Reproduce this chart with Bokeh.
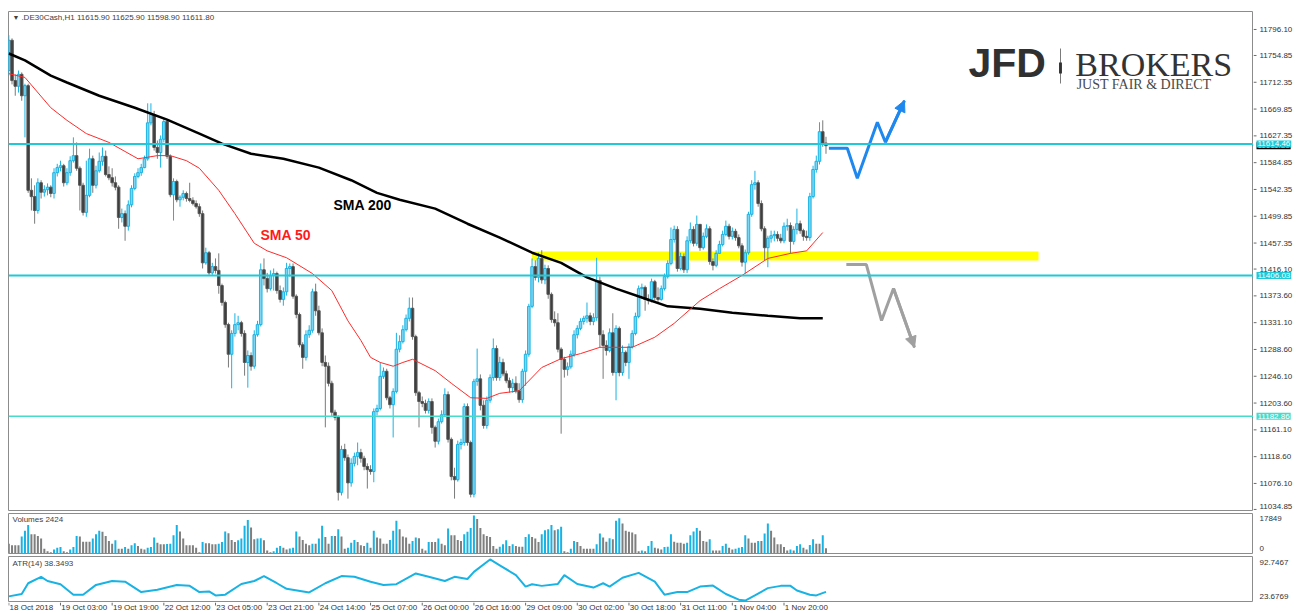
from bokeh.plotting import figure
from bokeh.layouts import column, row
from bokeh.models import (Range1d, Span, BoxAnnotation, Label, Arrow, NormalHead,
                          ColumnDataSource)
from bokeh.core.properties import value
from bokeh.embed import file_html
from bokeh.resources import INLINE

# ------------------------------------------------------------------ data
symbol = ".DE30Cash,H1"
last_ohlc = "11615.90 11625.90 11598.90 11611.80"
first_open = 11731.0

close = [
    11779, 11715, 11706, 11725, 11691, 11707, 11541, 11531, 11509, 11553,
    11538, 11542, 11546, 11536, 11569, 11577, 11580, 11553, 11569, 11588,
    11596, 11576, 11549, 11506, 11533, 11591, 11549, 11572, 11587, 11595,
    11566, 11561, 11553, 11546, 11498, 11504, 11484, 11518, 11544, 11563,
    11569, 11577, 11591, 11648, 11661, 11609, 11601, 11622, 11650, 11595,
    11534, 11555, 11526, 11530, 11536, 11528, 11525, 11520, 11515, 11504,
    11426, 11442, 11410, 11420, 11414, 11390, 11363, 11328, 11281, 11314,
    11328, 11331, 11314, 11268, 11279, 11262, 11312, 11328, 11415, 11401,
    11385, 11406, 11409, 11382, 11368, 11380, 11417, 11420, 11373, 11344,
    11296, 11276, 11312, 11319, 11380, 11350, 11315, 11268, 11262, 11235,
    11189, 11181, 11062, 11130, 11117, 11077, 11108, 11119, 11125, 11116,
    11103, 11098, 11095, 11190, 11195, 11246, 11254, 11212, 11201, 11222,
    11289, 11301, 11320, 11338, 11354, 11309, 11220, 11206, 11203, 11192,
    11206, 11165, 11143, 11174, 11185, 11217, 11146, 11087, 11082, 11138,
    11141, 11198, 11141, 11059, 11238, 11242, 11200, 11168, 11208, 11244,
    11290, 11244, 11268, 11250, 11239, 11228, 11235, 11223, 11209, 11254,
    11281, 11357, 11420, 11403, 11433, 11399, 11417, 11376, 11336, 11331,
    11289, 11273, 11257, 11261, 11281, 11312, 11322, 11333, 11338, 11342,
    11333, 11339, 11398, 11312, 11295, 11287, 11315, 11252, 11322, 11252,
    11284, 11268, 11293, 11314, 11341, 11385, 11387, 11368, 11366, 11396,
    11371, 11368, 11385, 11404, 11425, 11463, 11479, 11417, 11436, 11415,
    11461, 11479, 11457, 11487, 11450, 11468, 11480, 11428, 11422, 11441,
    11455, 11471, 11484, 11468, 11476, 11466, 11453, 11427, 11442, 11503,
    11550, 11553, 11520, 11480, 11450, 11465, 11469, 11471, 11465, 11461,
    11484, 11485, 11460, 11479, 11488, 11477, 11468, 11466, 11531, 11574,
    11587, 11634, 11615.9, 11611.8]

high = [
    11787, 11782, 11725, 11731, 11728, 11710, 11710, 11560, 11549, 11560,
    11557, 11549, 11552, 11549, 11576, 11583, 11588, 11583, 11576, 11595,
    11625, 11617, 11579, 11553, 11588, 11607, 11596, 11580, 11601, 11609,
    11604, 11579, 11576, 11563, 11549, 11512, 11509, 11525, 11549, 11568,
    11576, 11583, 11596, 11679, 11679, 11667, 11620, 11628, 11656, 11653,
    11598, 11560, 11558, 11533, 11541, 11539, 11553, 11530, 11525, 11520,
    11509, 11450, 11445, 11426, 11433, 11441, 11393, 11366, 11331, 11319,
    11346, 11342, 11334, 11319, 11287, 11284, 11319, 11334, 11425, 11433,
    11410, 11414, 11417, 11412, 11390, 11387, 11426, 11425, 11425, 11376,
    11347, 11300, 11319, 11327, 11385, 11393, 11358, 11322, 11279, 11268,
    11239, 11193, 11184, 11136, 11139, 11122, 11116, 11125, 11141, 11131,
    11120, 11108, 11105, 11195, 11201, 11268, 11260, 11258, 11215, 11227,
    11315, 11311, 11327, 11344, 11371, 11371, 11312, 11223, 11214, 11209,
    11211, 11211, 11168, 11179, 11192, 11227, 11222, 11149, 11101, 11144,
    11147, 11203, 11203, 11144, 11242, 11290, 11249, 11208, 11214, 11249,
    11306, 11295, 11277, 11274, 11255, 11244, 11242, 11246, 11235, 11258,
    11287, 11361, 11433, 11430, 11442, 11446, 11423, 11422, 11379, 11349,
    11346, 11292, 11277, 11268, 11287, 11319, 11327, 11338, 11342, 11363,
    11347, 11346, 11434, 11404, 11319, 11303, 11322, 11346, 11327, 11325,
    11295, 11287, 11298, 11319, 11347, 11390, 11393, 11390, 11376, 11401,
    11399, 11387, 11390, 11409, 11430, 11482, 11485, 11484, 11442, 11441,
    11468, 11490, 11484, 11501, 11465, 11474, 11487, 11484, 11433, 11446,
    11461, 11477, 11493, 11488, 11482, 11480, 11471, 11457, 11447, 11507,
    11557, 11572, 11557, 11525, 11484, 11469, 11477, 11477, 11476, 11472,
    11490, 11496, 11490, 11484, 11512, 11493, 11480, 11477, 11537, 11580,
    11596, 11649, 11652, 11625.9]

low = [
    11723, 11709, 11691, 11696, 11683, 11625, 11537, 11509, 11488, 11504,
    11528, 11531, 11533, 11530, 11528, 11563, 11571, 11547, 11549, 11564,
    11585, 11572, 11509, 11501, 11499, 11530, 11537, 11544, 11569, 11580,
    11563, 11557, 11547, 11541, 11480, 11490, 11461, 11477, 11514, 11541,
    11560, 11564, 11576, 11588, 11644, 11604, 11591, 11577, 11617, 11591,
    11530, 11493, 11522, 11515, 11525, 11523, 11522, 11517, 11512, 11499,
    11417, 11423, 11407, 11407, 11409, 11377, 11358, 11323, 11260, 11227,
    11309, 11319, 11309, 11247, 11228, 11255, 11258, 11309, 11325, 11390,
    11379, 11382, 11382, 11377, 11363, 11358, 11374, 11404, 11369, 11338,
    11292, 11258, 11271, 11307, 11315, 11342, 11311, 11262, 11165, 11230,
    11182, 11176, 11049, 11057, 11112, 11052, 11071, 11103, 11105, 11109,
    11097, 11068, 11090, 11078, 11184, 11192, 11242, 11208, 11195, 11149,
    11219, 11284, 11298, 11317, 11333, 11304, 11215, 11165, 11197, 11187,
    11187, 11155, 11133, 11138, 11171, 11182, 11141, 11081, 11052, 11079,
    11130, 11136, 11136, 11054, 11054, 11231, 11192, 11163, 11163, 11204,
    11239, 11239, 11239, 11246, 11235, 11220, 11220, 11219, 11204, 11204,
    11231, 11277, 11354, 11398, 11395, 11393, 11392, 11369, 11331, 11325,
    11284, 11155, 11244, 11247, 11258, 11277, 11306, 11319, 11328, 11331,
    11327, 11327, 11334, 11292, 11242, 11279, 11284, 11247, 11208, 11246,
    11247, 11262, 11242, 11290, 11311, 11338, 11369, 11350, 11360, 11363,
    11366, 11363, 11366, 11382, 11401, 11422, 11458, 11412, 11414, 11410,
    11410, 11457, 11452, 11453, 11445, 11447, 11465, 11423, 11414, 11419,
    11442, 11452, 11468, 11463, 11463, 11461, 11449, 11420, 11409, 11439,
    11499, 11542, 11515, 11476, 11430, 11419, 11458, 11460, 11460, 11457,
    11457, 11477, 11441, 11455, 11471, 11472, 11461, 11461, 11461, 11528,
    11569, 11582, 11610, 11598.9]

volume = [
    4610, 3820, 3820, 3820, 7950, 10650, 13360, 9060, 9060, 8270,
    7000, 2230, 1110, 640, 1910, 2700, 3020, 1110, 640, 1910,
    3020, 8270, 7950, 5570, 5570, 5570, 7000, 9060, 10650, 10180,
    8270, 5880, 4610, 6200, 2230, 2230, 3020, 2230, 3820, 4770,
    3500, 2230, 1910, 2700, 3020, 7470, 5090, 4290, 4290, 4450,
    4610, 8590, 13360, 10340, 7000, 3820, 3820, 3820, 2700, 640,
    5410, 4770, 4770, 4290, 4290, 4610, 5410, 10340, 9540, 6360,
    5410, 6200, 7000, 13040, 15740, 12240, 6680, 7000, 7160, 6200,
    1430, 640, 1110, 2700, 3500, 2700, 1910, 2390, 2700, 10340,
    7950, 6360, 4610, 3820, 4610, 4610, 7000, 13040, 7790, 4610,
    8270, 8270, 11450, 7950, 2230, 2700, 5090, 6360, 5410, 3820,
    3500, 5090, 2700, 10650, 7470, 7000, 4610, 4610, 6360, 10650,
    15420, 11450, 7950, 7470, 4610, 5880, 7470, 7160, 2230, 1430,
    5410, 5410, 5410, 7000, 4610, 3820, 11770, 8590, 8590, 6360,
    5880, 9060, 10180, 11930, 17849, 16220, 11930, 9060, 8270, 7790,
    3500, 2230, 3180, 4290, 6200, 3500, 4290, 3500, 3180, 3180,
    7790, 9060, 7790, 7000, 5410, 9060, 10970, 11450, 13360, 10970,
    11450, 12560, 1110, 640, 2230, 5880, 5410, 3500, 2230, 2230,
    2230, 2230, 4290, 9380, 7470, 5570, 7160, 6680, 15420, 16540,
    14150, 10650, 10180, 9860, 9060, 1110, 1430, 1110, 3500, 5880,
    2700, 2390, 1910, 3020, 3180, 9060, 5570, 5090, 5090, 4610,
    5090, 8590, 10340, 11930, 10650, 5880, 5570, 6680, 1430, 1430,
    1430, 3500, 4610, 2700, 1910, 2230, 2700, 3020, 8590, 7000,
    5090, 5090, 5880, 5880, 9380, 14150, 10650, 7470, 4290, 4290,
    3020, 1430, 1910, 1430, 3500, 4290, 2700, 1910, 3980, 6680,
    4610, 4610, 8590, 2424]

sma200_bar = [0, 5, 13, 18, 28, 39, 49, 59, 66, 75, 85, 96, 106, 114, 121,
              132, 142, 152, 162, 171, 179, 188, 196, 204, 214, 224, 235, 245, 252]
sma200 = [11758, 11747, 11723, 11712, 11691, 11672, 11653, 11631, 11615, 11599,
          11591, 11577, 11557, 11537, 11526, 11512, 11488, 11466, 11442, 11426,
          11403, 11385, 11371, 11357, 11353, 11347, 11342, 11338, 11338]

sma50_bar = [0, 5, 13, 18, 24, 31, 40, 46, 50, 55, 59, 65, 70, 76, 80, 86, 94, 100,
             105, 109, 112, 115, 119, 122, 125, 132, 137, 143, 148, 152, 158, 165,
             171, 177, 183, 193, 200, 206, 214, 220, 227, 235, 242, 247, 252]
sma50 = [11726, 11720, 11672, 11652, 11631, 11617, 11591, 11596, 11596, 11588,
         11576, 11541, 11504, 11457, 11445, 11434, 11409, 11382, 11334, 11303,
         11276, 11268, 11262, 11268, 11273, 11255, 11235, 11212, 11211, 11219,
         11223, 11260, 11274, 11282, 11292, 11292, 11308, 11330, 11366, 11385,
         11406, 11433, 11441, 11445, 11474]

atr_bar = [0, 4, 6, 10, 12, 16, 20, 23, 27, 32, 36, 41, 46, 52, 56, 59, 62, 64, 67, 72,
           76, 79, 83, 86, 93, 98, 103, 107, 112, 116, 120, 126, 130, 135, 138, 142,
           144, 149, 152, 157, 160, 162, 165, 170, 172, 176, 181, 184, 186, 190, 195,
           200, 203, 207, 210, 214, 218, 222, 226, 228, 231, 235, 239, 242, 244, 248,
           250, 253]
atr = [30.8, 34.7, 52.8, 63.6, 56.6, 51.2, 33.6, 33.6, 50.0, 56.6, 55.4, 38.0, 41.8,
       50.0, 48.4, 38.0, 39.0, 32.4, 33.6, 51.6, 56.6, 64.8, 52.8, 43.4, 37.4, 52.8,
       64.8, 63.6, 55.4, 50.0, 51.2, 69.2, 63.6, 56.6, 63.6, 59.9, 71.9, 92.7, 82.9,
       66.4, 47.2, 51.2, 48.4, 51.6, 66.4, 51.6, 45.6, 52.8, 47.2, 62.0, 70.2, 55.4,
       33.6, 38.0, 38.0, 47.2, 48.9, 34.7, 25.3, 23.7, 32.4, 44.6, 48.4, 48.4, 40.6,
       33.6, 32.4, 38.3493]

price_ticks = [11796.10, 11754.85, 11712.35, 11669.85, 11627.35, 11584.85, 11542.35,
               11499.85, 11457.35, 11416.10, 11373.60, 11331.10, 11288.60, 11246.10,
               11203.60, 11161.10, 11118.60, 11076.10, 11034.85]
volume_scale = [17849, 0]
atr_scale = [92.7467, 23.6769]

date_ticks = [0, 16, 32, 48, 64, 80, 96, 112, 128, 144, 160, 176, 192, 208, 224, 240]
date_labels = ["18 Oct 2018", "19 Oct 03:00", "19 Oct 19:00", "22 Oct 12:00",
               "23 Oct 05:00", "23 Oct 21:00", "24 Oct 14:00", "25 Oct 07:00",
               "26 Oct 00:00", "26 Oct 16:00", "29 Oct 09:00", "30 Oct 02:00",
               "30 Oct 18:00", "31 Oct 11:00", "1 Nov 04:00", "1 Nov 20:00"]

level_prices = [11614.46, 11406.03, 11182.86]
bid_price = 11611.80
zone_price = [11429.6, 11443.9]
zone_bars = [162.0, 318.8]
bull_path_bar = [253.9, 259.6, 262.7, 268.9, 271.4, 277.3]
bull_path_price = [11607.8, 11607.8, 11560.2, 11649.0, 11617.3, 11683.4]
bear_path_bar = [259.3, 265.5, 270.2, 273.9, 280.4]
bear_path_price = [11423.3, 11423.3, 11334.5, 11385.2, 11291.6]

# ------------------------------------------------------------------ styles
CYAN = "#19B3E3"
CYAN_FILL = "#7CD5F2"
DARK = "#3E3E3E"
DARK_LINE = "#575757"
WICK_DARK = "#7A7A7A"
LEVEL = "#1FC9D8"
LEVEL2 = "#45DCCB"
TXT = "#333333"
AXC = "#6a6a6a"
FONT = "Liberation Sans"
PX_PER_BAR = 3.23
FRAME_W = 1245
X0 = -0.093
RIGHT_W = 45

# ------------------------------------------------------------------ derived
n = len(close)
bars = list(range(n))
opens = [first_open] + close[:-1]
hi = [max(h, o, c) for h, o, c in zip(high, opens, close)]
lo = [min(l, o, c) for l, o, c in zip(low, opens, close)]
up_idx = [i for i in bars if close[i] >= opens[i]]
dn_idx = [i for i in bars if close[i] < opens[i]]


def cs(idx):
    return ColumnDataSource(dict(
        x=idx, hi=[hi[i] for i in idx], lo=[lo[i] for i in idx],
        top=[max(opens[i], close[i]) for i in idx],
        bot=[min(opens[i], close[i]) for i in idx]))


xr = Range1d(X0, X0 + FRAME_W / PX_PER_BAR)
xr_side = Range1d(0, RIGHT_W)
yr_main = Range1d(11031.6, 11824.6)
yr_vol = Range1d(0, 18800)
yr_atr = Range1d(20.5, 97.68)


def base_fig(width, height, x_range, y_range, left, right, top, bottom):
    p = figure(width=width, height=height, x_range=x_range, y_range=y_range,
               output_backend="svg", toolbar_location=None,
               x_axis_location=None, y_axis_location=None,
               min_border_left=left, min_border_right=right,
               min_border_top=top, min_border_bottom=bottom)
    p.outline_line_color = "#8c8c8c"
    p.outline_line_width = 1
    p.background_fill_color = "white"
    p.border_fill_color = "white"
    p.xgrid.grid_line_color = None
    p.ygrid.grid_line_color = None
    return p


def side_fig(height, y_range, top, bottom):
    p = base_fig(RIGHT_W, height, xr_side, y_range, 0, 0, top, bottom)
    p.outline_line_color = None
    return p


def lab(p, x, y, text, size="8px", color=TXT, font=FONT, style="normal",
        bg=None):
    kw = dict(x=x, y=y, text=text, text_font_size=size, text_color=color,
              text_font=font, text_font_style=style, text_align="left",
              text_baseline="middle")
    if bg is not None:
        kw["background_fill_color"] = bg
    l = Label(**kw)
    if bg is not None:
        try:
            l.padding = 1
        except Exception:
            pass
    p.add_layout(l)
    return l


def scale_text(p, ys, texts, offsets):
    p.text(x=[6] * len(ys), y=ys, text=texts, y_offset=offsets,
           text_font=value(FONT), text_font_size="8px", text_color=TXT,
           text_baseline="middle", text_align="left")


# ------------------------------------------------------------------ main chart
# frame: x 8..1253, y 11..511
pA = base_fig(8 + FRAME_W, 511, xr, yr_main, 8, 0, 11, 0)

pA.add_layout(BoxAnnotation(left=zone_bars[0], right=zone_bars[1],
                            bottom=zone_price[0], top=zone_price[1],
                            fill_color="#FFFF00", fill_alpha=1.0,
                            line_color=None, level="underlay"))

src_up, src_dn = cs(up_idx), cs(dn_idx)
pA.segment(x0="x", y0="lo", x1="x", y1="hi", source=src_up, line_color=CYAN, line_width=1)
pA.segment(x0="x", y0="lo", x1="x", y1="hi", source=src_dn, line_color=WICK_DARK, line_width=1)
pA.vbar(x="x", width=0.78, top="top", bottom="bot", source=src_up,
        fill_color=CYAN_FILL, line_color=CYAN, line_width=1)
pA.vbar(x="x", width=0.78, top="top", bottom="bot", source=src_dn,
        fill_color=DARK, line_color=DARK_LINE, line_width=1)

pA.line(sma200_bar, sma200, line_color="black", line_width=2.5)
pA.line(sma50_bar, sma50, line_color="#FF2A2A", line_width=1)

for price, col, w in zip(level_prices, [LEVEL, LEVEL, LEVEL2], [2, 2, 1.5]):
    pA.add_layout(Span(location=price, dimension="width", line_color=col, line_width=w))

BLUE = "#1E88EE"
GREY = "#A0A0A0"
pA.line(bull_path_bar, bull_path_price, line_color=BLUE, line_width=3)
pA.add_layout(Arrow(end=NormalHead(size=11, fill_color=BLUE, line_color=BLUE),
                    x_start=bull_path_bar[-2], y_start=bull_path_price[-2],
                    x_end=bull_path_bar[-1], y_end=bull_path_price[-1],
                    line_color=BLUE, line_width=3))
pA.line(bear_path_bar, bear_path_price, line_color=GREY, line_width=3)
pA.add_layout(Arrow(end=NormalHead(size=11, fill_color=GREY, line_color=GREY),
                    x_start=bear_path_bar[-2], y_start=bear_path_price[-2],
                    x_end=bear_path_bar[-1], y_end=bear_path_price[-1],
                    line_color=GREY, line_width=3))

lab(pA, 1.15, 11815.1, "\u25BC", size="7px", color="#404040")
lab(pA, 3.9, 11815.1, symbol + "  " + last_ohlc, color="#404040")
lab(pA, 100.5, 11517.7, "SMA 200", size="14px", color="black", style="bold")
lab(pA, 77.9, 11469.8, "SMA 50", size="14px", color="#FF1A1A", style="bold")

# logo
lab(pA, 297.1, 11742.9, "JFD", size="41px", color="#303030", style="bold")
pA.add_layout(BoxAnnotation(left=325.45, right=325.75, bottom=11710.4, top=11765.9,
                            fill_color="#777777", fill_alpha=1, line_color=None))
pA.add_layout(BoxAnnotation(left=325.15, right=326.05, bottom=11726.2, top=11743.7,
                            fill_color="#333333", fill_alpha=1, line_color=None))
lab(pA, 330.2, 11741.0, "BROKERS", size="34px", color="#333333", font="Liberation Serif")
lab(pA, 330.6, 11708.5, "JUST FAIR & DIRECT", size="14px", color="#4a4a4a",
    font="Liberation Serif")

# price scale strip (its frame lines up with the chart frame)
pR = side_fig(511, yr_main, 11, 0)
pR.segment(x0=0, x1=3, y0=price_ticks, y1=price_ticks, line_color=AXC, line_width=1)
scale_text(pR, price_ticks, ["%.2f" % t for t in price_ticks],
           [0] * (len(price_ticks) - 1) + [-3])
lab(pR, 3, bid_price, "%.2f" % bid_price, color="white", bg="black")
for price, col in zip(level_prices, [LEVEL, LEVEL, LEVEL2]):
    lab(pR, 3, price, "%.2f" % price, color="white", bg=col)

# ------------------------------------------------------------------ volumes (frame y 513..553)
pB = base_fig(8 + FRAME_W, 44, xr, yr_vol, 8, 0, 2, 2)
vol_colors = ["#7F7F7F"] + [CYAN if volume[i] > volume[i - 1] else "#7F7F7F"
                            for i in range(1, n)]
pB.vbar(x=bars, top=volume, bottom=0, width=0.62, fill_color=vol_colors,
        line_color=None)
lab(pB, 1.15, 15980, "Volumes %d" % volume[-1], color="#404040")
pBR = side_fig(44, yr_vol, 2, 2)
scale_text(pBR, volume_scale, ["%d" % v for v in volume_scale], [3, -5])

# ------------------------------------------------------------------ ATR (frame y 556..602)
pC = base_fig(8 + FRAME_W, 47, xr, yr_atr, 8, 0, 1, 0)
pC.line(atr_bar, atr, line_color=CYAN, line_width=2)
lab(pC, 1.15, 86.0, "ATR(14) %.4f" % atr[-1], color="#404040")
pCR = side_fig(47, yr_atr, 1, 0)
scale_text(pCR, atr_scale, ["%.4f" % v for v in atr_scale], [3, -4])

# ------------------------------------------------------------------ time scale strip (y 602..614)
pD = base_fig(1298, 12, xr, Range1d(0, 12), 8, RIGHT_W, 0, 0)
pD.outline_line_color = None
pD.segment(x0=date_ticks, x1=date_ticks, y0=[12] * len(date_ticks),
           y1=[9] * len(date_ticks), line_color=AXC, line_width=1)
pD.text(x=[t + 0.25 for t in date_ticks], y=[7.0] * len(date_ticks), text=date_labels,
        text_font=value(FONT), text_font_size="8px", text_color=TXT,
        text_baseline="middle", text_align="left")

layout = column(row(pA, pR, spacing=0), row(pB, pBR, spacing=0),
                row(pC, pCR, spacing=0), pD, spacing=0)
open("out.html", "w").write(file_html(layout, INLINE, "DE30Cash H1"))
